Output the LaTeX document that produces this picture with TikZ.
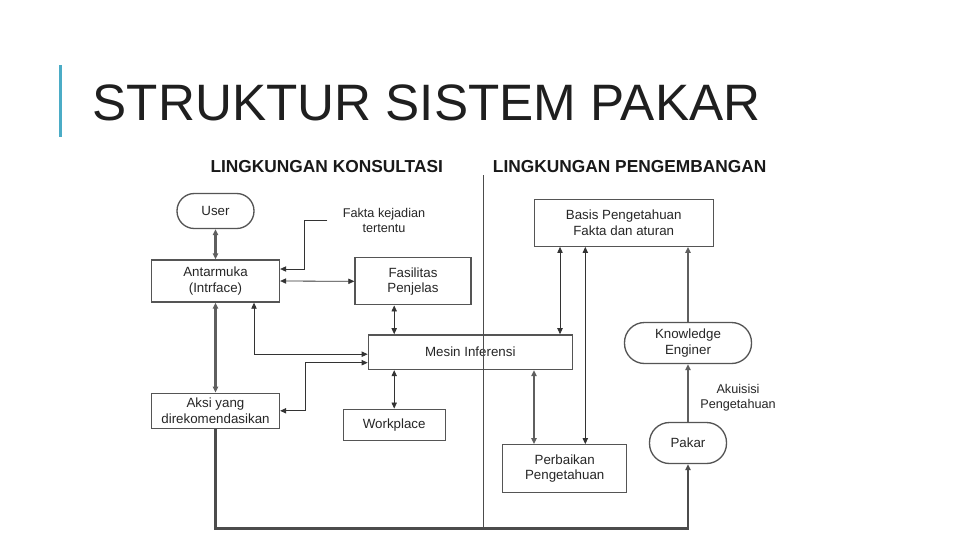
\documentclass[tikz,border=0pt]{standalone}
\usepackage{fontspec}
\setmainfont{Liberation Sans}
\usetikzlibrary{arrows.meta,calc}
\definecolor{titleblue}{RGB}{75,172,198}
\definecolor{boxline}{RGB}{85,85,85}
\definecolor{thickgray}{RGB}{95,95,95}
\tikzset{
  sysbox/.style={draw=boxline, line width=1pt, fill=white, inner sep=1pt,
    align=center, font=\fontsize{10}{11.5}\selectfont, text=black!85},
  roundbox/.style={sysbox, rounded corners=14pt},
  lbl/.style={align=center, font=\fontsize{9.5}{11}\selectfont, text=black!85},
  zonehead/.style={font=\fontsize{13}{15}\selectfont\bfseries, inner sep=0pt, text=black!90},
  pagetitle/.style={font=\fontsize{38.4}{44}\selectfont, inner sep=0pt, text=black!88},
  titlebar/.style={line width=2.5pt, draw=titleblue},
  divline/.style={line width=0.6pt, draw=black!70},
  arrw/.style={->, line width=0.6pt, draw=black!80},
  darrw/.style={<->, line width=0.6pt, draw=black!80},
  tarrw/.style={->, line width=1.8pt, draw=thickgray},
  tdarrw/.style={<->, line width=1.8pt, draw=thickgray},
}
\begin{document}
\begin{tikzpicture}[x=0.75pt, y=-0.75pt, >={Triangle[length=4.5pt,width=4pt]}]
  \useasboundingbox[fill=white] (0,0) rectangle (960,540);

  % Title
  \coordinate (bartop) at (60.7,65);
  \coordinate (barbot) at (60.7,136.7);
  \draw[titlebar] (bartop) -- (barbot);
  \node[pagetitle, anchor=west] (title) at (92.5,102.5) {STRUKTUR SISTEM PAKAR};

  % Zone headings
  \node[zonehead] (konsul) at (326.7,166.7) {LINGKUNGAN KONSULTASI};
  \node[zonehead] (kembang) at (629.7,166.2) {LINGKUNGAN PENGEMBANGAN};

  % Consultation side
  \node[roundbox, minimum width=57.75pt, minimum height=26.25pt, rounded corners=13pt] (user)
    at (215.5,211) {User};
  \node[sysbox, minimum width=96pt, minimum height=31.5pt] (antar)
    at (215.5,281) {Antarmuka\\(Intrface)};
  \node[sysbox, minimum width=87pt, minimum height=35.25pt] (fas)
    at (413,281.3) {Fasilitas\\Penjelas};
  \node[lbl] (fakta) at (384,220.5) {Fakta kejadian\\tertentu};
  \node[sysbox, minimum width=153pt, minimum height=26pt] (mesin)
    at (470.3,352.2) {Mesin Inferensi};
  \node[sysbox, minimum width=76.5pt, minimum height=23.25pt] (wp)
    at (394.2,424.7) {Workplace};
  \node[sysbox, minimum width=96pt, minimum height=26.25pt] (aksi)
    at (215.5,410.8) {Aksi yang\\direkomendasikan};

  % Development side
  \node[sysbox, minimum width=134.25pt, minimum height=35.25pt] (basis)
    at (623.7,222.7) {Basis Pengetahuan\\Fakta dan aturan};
  \node[roundbox, minimum width=95.25pt, minimum height=30.75pt, rounded corners=15pt] (ke)
    at (688,343) {Knowledge\\Enginer};
  \node[lbl] (akuisisi) at (738,398) {Akuisisi\\Pengetahuan};
  \node[roundbox, minimum width=57.75pt, minimum height=30.75pt, rounded corners=15pt] (pakar)
    at (688,443) {Pakar};
  \node[sysbox, minimum width=93pt, minimum height=36pt] (perb)
    at (564.7,468.8) {Perbaikan\\Pengetahuan};

  % Divider
  \coordinate (divtop) at (483.5,175);
  \coordinate (divbot) at (483.5,529);
  \draw[divline] (divtop) -- (divbot);

  % Arrows, consultation
  \draw[tdarrw] (user.south) -- (antar.north);
  \draw[arrw] ([xshift=-8pt]fakta.west) -| ($(antar.east)+(24,-12)$) -- ($(antar.east)+(0,-12)$);
  \draw[darrw] (antar.east) -- (fas.west);
  \draw[darrw] (wp.north |- fas.south) -- (wp.north |- mesin.north);
  \draw[darrw] (wp.north |- mesin.south) -- (wp.north);
  \draw[tdarrw] (antar.south) -- (aksi.north);
  \draw[darrw] ($(antar.south)+(38.5,0)$) |- ($(mesin.west)+(0,2)$);
  \draw[darrw] (aksi.east) -- ++(25.7,0) |- ($(mesin.west)+(0,10.5)$);

  % Arrows, development
  \draw[darrw] ($(basis.south)+(-63.7,0)$) coordinate (bm) -- (bm |- mesin.north);
  \draw[darrw] ($(basis.south)+(-38.4,0)$) coordinate (bp) -- (bp |- perb.north);
  \draw[tdarrw] ($(perb.north)+(-30.7,0)$) coordinate (pm) -- (pm |- mesin.south);
  \draw[tarrw] (ke.north) -- (ke.north |- basis.south);
  \draw[tarrw] (pakar.north) -- (ke.south);
  \draw[tarrw, draw=black!70] (aksi.south) -- ++(0,99.4) -| (pakar.south);
\end{tikzpicture}
\end{document}
